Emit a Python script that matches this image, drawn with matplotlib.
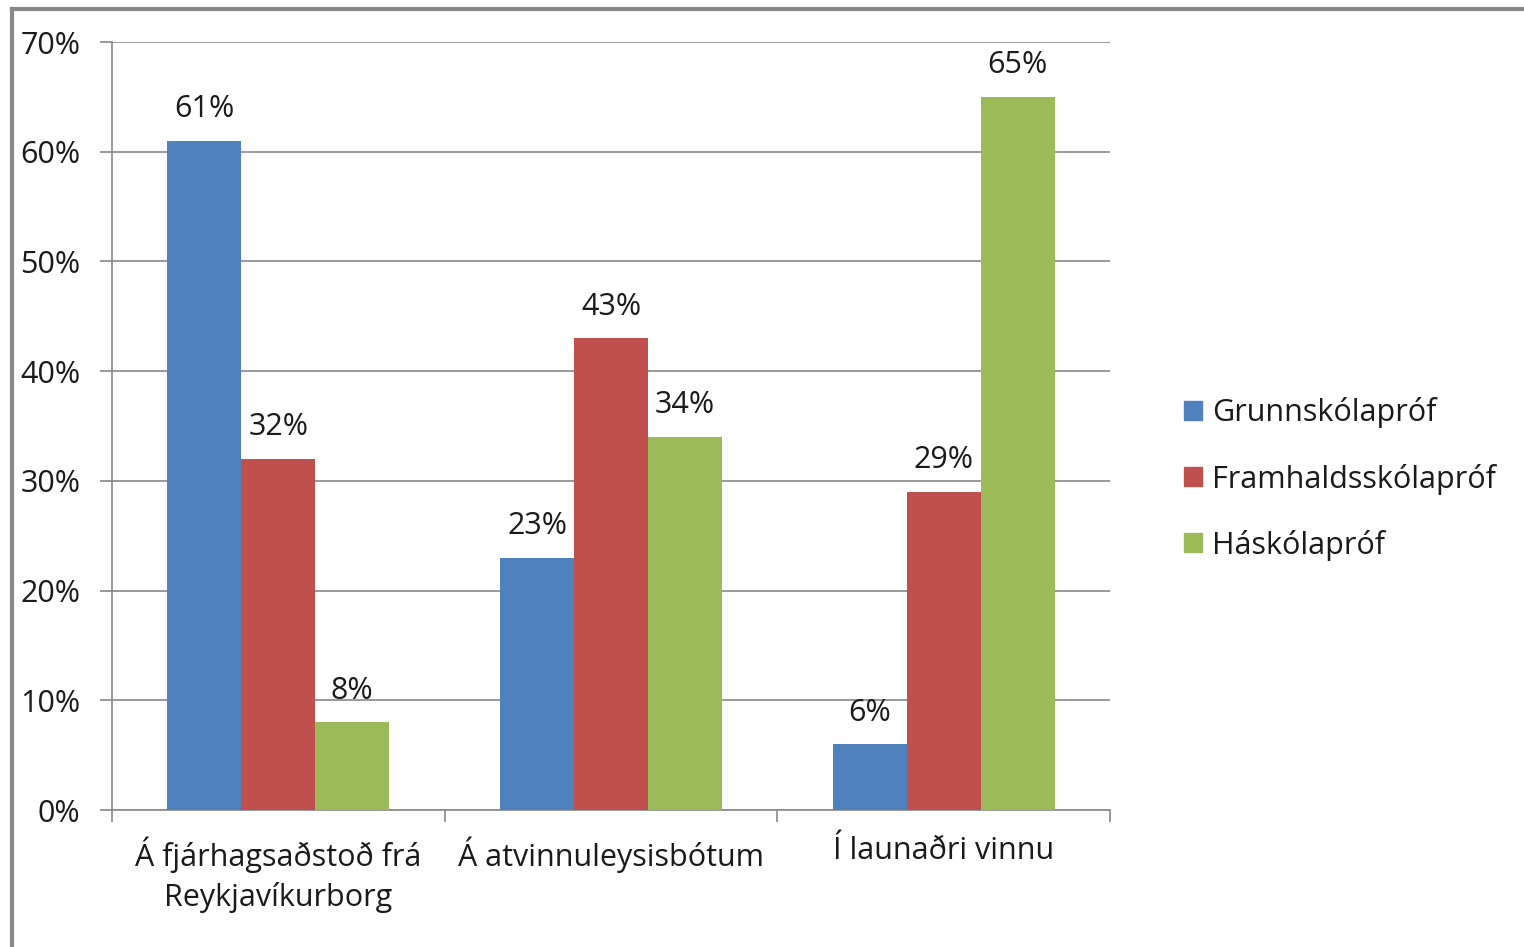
import matplotlib
matplotlib.use("Agg")
import matplotlib.pyplot as plt
from matplotlib.lines import Line2D
import numpy as np

categories = ["Á fjárhagsaðstoð frá\nReykjavíkurborg", "Á atvinnuleysisbótum", "Í launaðri vinnu"]
series_names = ["Grunnskólapróf", "Framhaldsskólapróf", "Háskólapróf"]
grunn = [61, 23, 6]
framhald = [32, 43, 29]
haskoli = [8, 34, 65]
yticks = [0, 10, 20, 30, 40, 50, 60, 70]

colors = ["#4F81BD", "#C0504D", "#9BBB59"]
plt.rcParams['font.family'] = ['Open Sans', 'DejaVu Sans']
FS = 22

fig = plt.figure(figsize=(15.24, 9.47), dpi=100)
ax = fig.add_axes([112/1524, 1-810/947, (1110-112)/1524, (810-42)/947])

x = np.arange(len(categories))
w = 74/333
for i, (vals, c, name) in enumerate(zip([grunn, framhald, haskoli], colors, series_names)):
    pos = x + (i-1)*w
    ax.bar(pos, vals, width=w, color=c, label=name, zorder=3)
    for p, v in zip(pos, vals):
        ax.annotate(f"{v}%", (p, v), xytext=(0, 12), textcoords="offset points",
                    ha="center", va="bottom", fontsize=FS, color="#1a1a1a")

ax.set_xlim(-0.5, 2.5)
ax.set_ylim(0, 70)
ax.set_yticks(yticks)
ax.set_yticklabels([f"{t}%" for t in yticks], fontsize=FS, color="#1a1a1a")
ax.yaxis.grid(True, color="#888888", linewidth=1.2, zorder=0)
ax.set_axisbelow(True)
ax.tick_params(axis='y', length=8.6, width=1.2, color="#888888", pad=14)
ax.set_xticks([-0.5, 0.5, 1.5, 2.5])
ax.set_xticklabels([])
ax.tick_params(axis='x', length=8.6, width=1.2, color="#888888")
ax.set_xticks(x, minor=True)
ax.set_xticklabels(categories, minor=True, fontsize=FS, color="#1a1a1a", linespacing=1.4)
ax.tick_params(axis='x', which='minor', length=0, pad=19)
for s in ["top", "right"]:
    ax.spines[s].set_visible(False)
for s in ["left", "bottom"]:
    ax.spines[s].set_color("#888888")
    ax.spines[s].set_linewidth(1.2)

handles = [plt.Rectangle((0, 0), 1, 1, color=c) for c in colors]
fig.legend(handles, series_names, loc="center left", bbox_to_anchor=(1184/1524, 1-479/947),
           frameon=False, fontsize=FS, handlelength=0.58, handleheight=0.58, borderpad=0,
           borderaxespad=0, handletextpad=0.35, labelspacing=1.15, labelcolor="#1a1a1a")

# figure border (left and top)
fig.add_artist(Line2D([12/1524, 12/1524], [0, 1-9/947], transform=fig.transFigure,
                      color="#888888", linewidth=3))
fig.add_artist(Line2D([12/1524, 1], [1-9/947, 1-9/947], transform=fig.transFigure,
                      color="#888888", linewidth=3))

fig.savefig("out.png", dpi=100)
